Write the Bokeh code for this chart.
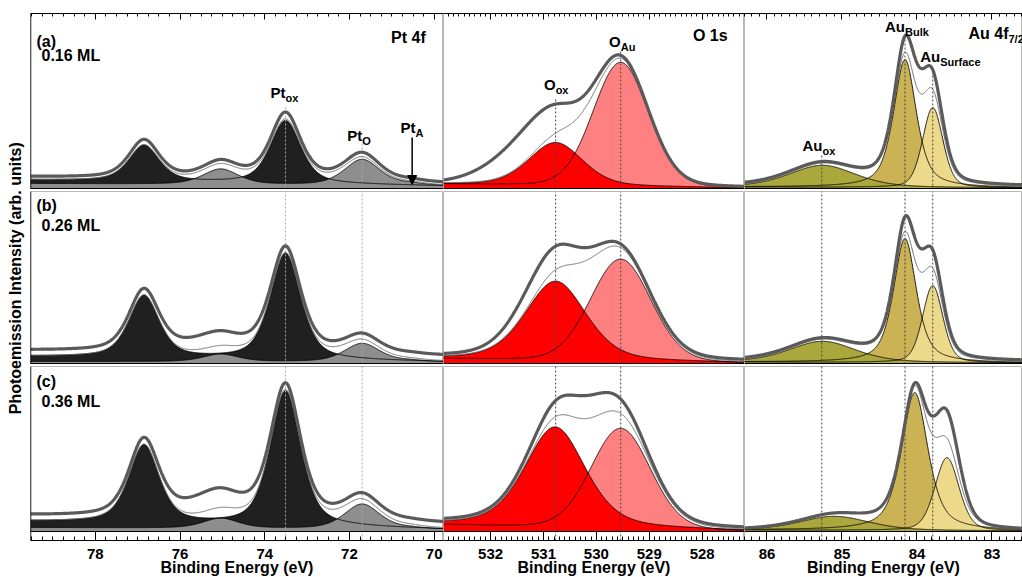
import numpy as np
from bokeh.plotting import figure
from bokeh.models import (Range1d, LinearAxis, SingleIntervalTicker, Span, Label,
                          Arrow, NormalHead, CustomJSTickFormatter)
from bokeh.layouts import row, column
from bokeh.embed import file_html
from bokeh.resources import INLINE
from bokeh.core.properties import value

FONT = "Liberation Sans"

# ---------------- data ----------------
row_tags = ["(a)", "(b)", "(c)"]
coverages = ["0.16 ML", "0.26 ML", "0.36 ML"]

# Pt 4f : spin-orbit doublets [4f7/2, 4f5/2]
pt_ox_center = [73.51, 76.85]
pt_ox_height = [[63, 36], [106, 62], [135, 78]]
pt_ox_fwhm = [0.85, 0.85]
pt_o_center = [71.70, 75.04]
pt_o_height = [[26, 15.5], [18.5, 7.5], [25, 10]]
pt_o_fwhm = [1.0, 1.0]
pt_a_center = 70.55
pt_a_height = [1.5, 1.0, 1.0]
pt_bg_left = [5.0, 2.0, 4.0]
pt_bg_right = [2.5, 1.5, 2.0]
pt_shirley_left = [3.5, 5.0, 6.0]
pt_data_scale = [1.06, 1.0, 1.0]
pt_data_offset = [2.5, 6.0, 6.0]
pt_data_extra = [[75.3, 0.0, 1.5], [75.2, 9.0, 1.6], [75.2, 14.0, 1.6]]

# O 1s
o_ox_center = [530.77, 530.77, 530.78]
o_ox_height = [43, 79, 100]
o_ox_fwhm = [1.2, 1.35, 1.35]
o_ox_eta = [0.3, 0.35, 0.4]
o_au_center = [529.54, 529.54, 529.54]
o_au_height = [124, 102, 100]
o_au_fwhm = [1.23, 1.35, 1.32]
o_bg_left = [4.5, 5.0, 7.0]
o_bg_right = [0.5, 0.5, 0.5]
o_data_offset = [0.5, 2.0, 2.0]
o_data_extra = [[531.2, 34, 1.7], [530.9, 22, 1.4], [530.2, 21, 1.5]]

# Au 4f7/2
au_bulk_center = [84.16, 84.16, 84.03]
au_bulk_height = [128, 124, 138]
au_bulk_fwhm = [0.36, 0.36, 0.42]
au_surf_center = [83.79, 83.79, 83.60]
au_surf_height = [80, 77, 73]
au_surf_fwhm = [0.32, 0.32, 0.38]
au_ox_center = [85.26, 85.26, 85.10]
au_ox_height = [22, 21, 14]
au_ox_fwhm = [1.05, 1.05, 1.1]
au_bg_left = [1.5, 1.5, 1.5]
au_bg_right = [0.5, 0.5, 0.5]
au_data_scale = [1.0, 1.0, 1.0]
au_data_offset = [1.5, 1.5, 0.0]
au_data_extra = [[83.95, 24, 0.5], [83.95, 22, 0.5], [83.62, 28, 0.45]]

# dotted guide lines (row (a) peak positions)
pt_guides = [73.51, 71.70]
o_guides = [530.77, 529.54]
au_guides = [85.27, 84.16, 83.79]

# axis ranges (binding energy decreasing to the right)
pt_range = (79.53, 69.78)
o_range = (532.89, 527.20)
au_range = (86.30, 82.593)
tick_interval = [2, 1, 1]
tick_minor = [8, 10, 10]

# ---------------- helpers ----------------
def pv(E, c, h, w, eta):
    x = (E - c) / w
    return h * (eta / (1 + 4 * x ** 2) + (1 - eta) * np.exp(-4 * np.log(2) * x ** 2))

def gauss(E, c, h, w):
    x = (E - c) / w
    return h * np.exp(-4 * np.log(2) * x ** 2)

def linear_bg(E, rng, left, right):
    lo, hi = min(rng), max(rng)
    return right + (left - right) * (E - lo) / (hi - lo)


FRAME_W = [413, 301, 278]
FRAME_H = [176, 173, 174]
YR = [(-1, 175), (-1, 172), (-9, 165)]
XR = [pt_range, o_range, au_range]
TOPB = [13, 2, 2]


def txt(p, x, y, s, size=16, align="left", xoff=0):
    p.add_layout(Label(x=x, y=y, text=s, text_font=FONT, text_font_size=f"{size}px",
                       text_font_style="bold", text_align=align,
                       text_baseline="middle", x_offset=xoff, text_color="black"))


def sub_label(p, x, y, main, sub, size=15, subsize=11, xoff=0):
    txt(p, x, y, main, size, "right", xoff)
    txt(p, x, y - 5, sub, subsize, "left", xoff)


def make_fig(r, c):
    p = figure(frame_width=FRAME_W[c], frame_height=FRAME_H[r],
               x_range=Range1d(*XR[c]), y_range=Range1d(*YR[r]),
               output_backend="svg", toolbar_location=None,
               x_axis_location=None, y_axis_location=None,
               min_border_left=0, min_border_right=0,
               min_border_top=TOPB[r], min_border_bottom=0,
               outline_line_color="#b8b8b8", background_fill_color="white",
               border_fill_color="white")
    p.grid.visible = False
    if r == 0:
        ax = LinearAxis(ticker=SingleIntervalTicker(interval=tick_interval[c],
                                                    num_minor_ticks=tick_minor[c]),
                        formatter=CustomJSTickFormatter(code="return ''"),
                        major_tick_in=6, major_tick_out=0, minor_tick_in=3,
                        minor_tick_out=0, major_label_text_font_size="0px",
                        major_label_standoff=0, axis_line_color="black",
                        major_tick_line_color="black", minor_tick_line_color="black")
        p.add_layout(ax, "above")
    if r == 2:
        ax = LinearAxis(ticker=SingleIntervalTicker(interval=tick_interval[c],
                                                    num_minor_ticks=tick_minor[c]),
                        major_tick_in=9, major_tick_out=0, minor_tick_in=4,
                        minor_tick_out=0, major_label_standoff=8,
                        major_label_text_font=FONT, major_label_text_font_size="15px",
                        major_label_text_font_style="bold",
                        major_label_text_color="black",
                        axis_label="Binding Energy (eV)", axis_label_standoff=-3,
                        axis_label_text_font=FONT, axis_label_text_font_size="16px",
                        axis_label_text_font_style="bold",
                        axis_label_text_color="black", axis_line_color="black",
                        major_tick_line_color="black", minor_tick_line_color="black")
        p.add_layout(ax, "below")
    return p


def guides(p, r, xs, tops, color, dash):
    for x, t in zip(xs, tops):
        y0 = YR[r][0]
        y1 = t if r == 0 else YR[r][1]
        p.segment(x0=[x], y0=[y0], x1=[x], y1=[y1], line_color=color,
                  line_dash=dash, line_width=1)


def finish(p, E, data, env):
    p.line(E, env, line_color="#6a6a6a", line_width=1)
    p.line(E, data, line_color="#5a5a5a", line_width=3.2)
    p.add_layout(Span(location=0, dimension="width", line_color="black", line_width=1.2))


figs = []
for r in range(3):
    rowfigs = []
    # ---------- Pt 4f ----------
    p = make_fig(r, 0)
    E = np.linspace(min(pt_range), max(pt_range), 1200)
    bg = linear_bg(E, pt_range, pt_bg_left[r], pt_bg_right[r])
    sh = linear_bg(E, pt_range, pt_shirley_left[r], 0.0)
    ox = sum(pv(E, pt_ox_center[i], pt_ox_height[r][i], pt_ox_fwhm[i], 0.55) for i in range(2))
    po = sum(pv(E, pt_o_center[i], pt_o_height[r][i], pt_o_fwhm[i], 0.5) for i in range(2))
    po = po + pv(E, pt_a_center, pt_a_height[r], 0.7, 0.5)
    black_top = bg + sh + ox
    gray_top = bg + po
    env = bg + sh + ox + po
    ex = pt_data_extra[r]
    data = env * pt_data_scale[r] + pt_data_offset[r] + gauss(E, ex[0], ex[1], ex[2])
    p.varea(x=E, y1=0, y2=black_top, fill_color="#202020")
    p.varea(x=E, y1=0, y2=gray_top, fill_color="#8e8e8e")
    p.line(E, black_top, line_color="black", line_width=0.9)
    p.line(E, gray_top, line_color="black", line_width=0.9)
    guides(p, r, pt_guides, [83, 45], "#a8a8a8", "2 2")
    finish(p, E, data, env)
    p.add_layout(Span(location=pt_range[0], dimension="height", line_color="black", line_width=1.5))
    tag_y = [147, 158, 150][r]
    txt(p, 79.39, tag_y, row_tags[r], 16)
    txt(p, 79.27, tag_y - 14 if r == 0 else tag_y - 20, coverages[r], 16)
    if r == 0:
        txt(p, 70.20, 151, "Pt 4f", 16, "right")
        sub_label(p, pt_ox_center[0], 96, "Pt", "ox")
        sub_label(p, pt_o_center[0], 53, "Pt", "O")
        sub_label(p, 70.44, 61, "Pt", "A")
        p.add_layout(Arrow(end=NormalHead(size=9, fill_color="black", line_color="black"),
                           x_start=70.52, y_start=51, x_end=70.52, y_end=4,
                           line_color="black", line_width=1.5))
    rowfigs.append(p)

    # ---------- O 1s ----------
    p = make_fig(r, 1)
    E = np.linspace(min(o_range), max(o_range), 1200)
    bg = linear_bg(E, o_range, o_bg_left[r], o_bg_right[r])
    au = pv(E, o_au_center[r], o_au_height[r], o_au_fwhm[r], 0.1)
    ox = pv(E, o_ox_center[r], o_ox_height[r], o_ox_fwhm[r], o_ox_eta[r])
    env = bg + au + ox
    ex = o_data_extra[r]
    data = env + o_data_offset[r] + gauss(E, ex[0], ex[1], ex[2])
    p.varea(x=E, y1=0, y2=bg + au, fill_color="#ff8080")
    p.varea(x=E, y1=0, y2=bg + ox, fill_color="#ff0000")
    p.line(E, bg + au, line_color="black", line_width=0.9)
    p.line(E, bg + ox, line_color="black", line_width=0.9)
    guides(p, r, o_guides, [91, 137], "#444444", "2 2")
    finish(p, E, data, env)
    if r == 0:
        txt(p, 527.52, 153, "O 1s", 16, "right")
        sub_label(p, o_au_center[0], 147, "O", "Au")
        sub_label(p, o_ox_center[0], 104, "O", "ox")
    rowfigs.append(p)

    # ---------- Au 4f7/2 ----------
    p = make_fig(r, 2)
    E = np.linspace(min(au_range), max(au_range), 1200)
    bg = linear_bg(E, au_range, au_bg_left[r], au_bg_right[r])
    bulk = pv(E, au_bulk_center[r], au_bulk_height[r], au_bulk_fwhm[r], 0.6)
    surf = pv(E, au_surf_center[r], au_surf_height[r], au_surf_fwhm[r], 0.3)
    aox = pv(E, au_ox_center[r], au_ox_height[r], au_ox_fwhm[r], 0.4)
    env = bg + bulk + surf + aox
    ex = au_data_extra[r]
    data = env * au_data_scale[r] + au_data_offset[r] + gauss(E, ex[0], ex[1], ex[2])
    p.varea(x=E, y1=0, y2=bg + bulk, fill_color="#cbb254")
    p.varea(x=E, y1=0, y2=bg + surf, fill_color="#ecd98a")
    p.varea(x=E, y1=0, y2=bg + aox, fill_color="#aaa73c")
    for comp in (bulk, surf, aox):
        p.line(E, bg + comp, line_color="black", line_width=0.9)
    guides(p, r, au_guides, [33, 155, 116], "#444444", "2 2")
    finish(p, E, data, env)
    if r == 0:
        txt(p, 83.313, 155, "Au 4f", 16, "left")
        txt(p, 82.78, 150, "7/2", 11, "left")
        sub_label(p, au_bulk_center[0], 162, "Au", "Bulk")
        sub_label(p, 83.69, 132, "Au", "Surface")
        sub_label(p, au_ox_center[0], 43, "Au", "ox")
    rowfigs.append(p)
    figs.append(rowfigs)

lab = figure(width=30, height=575, x_range=Range1d(0, 1), y_range=Range1d(0, 1),
             output_backend="svg", toolbar_location=None, x_axis_location=None,
             y_axis_location=None, min_border=0, outline_line_color=None)
lab.grid.visible = False
lab.text(x=[0.5], y=[0.517], text=["Photoemission Intensity (arb. units)"],
         angle=np.pi / 2, text_align="center", text_baseline="middle",
         text_font=value(FONT), text_font_size="16px", text_font_style="bold",
         text_color="black")

grid = column(*[row(*rf) for rf in figs])
layout = row(lab, grid)

open("out.html", "w").write(file_html(layout, INLINE))
